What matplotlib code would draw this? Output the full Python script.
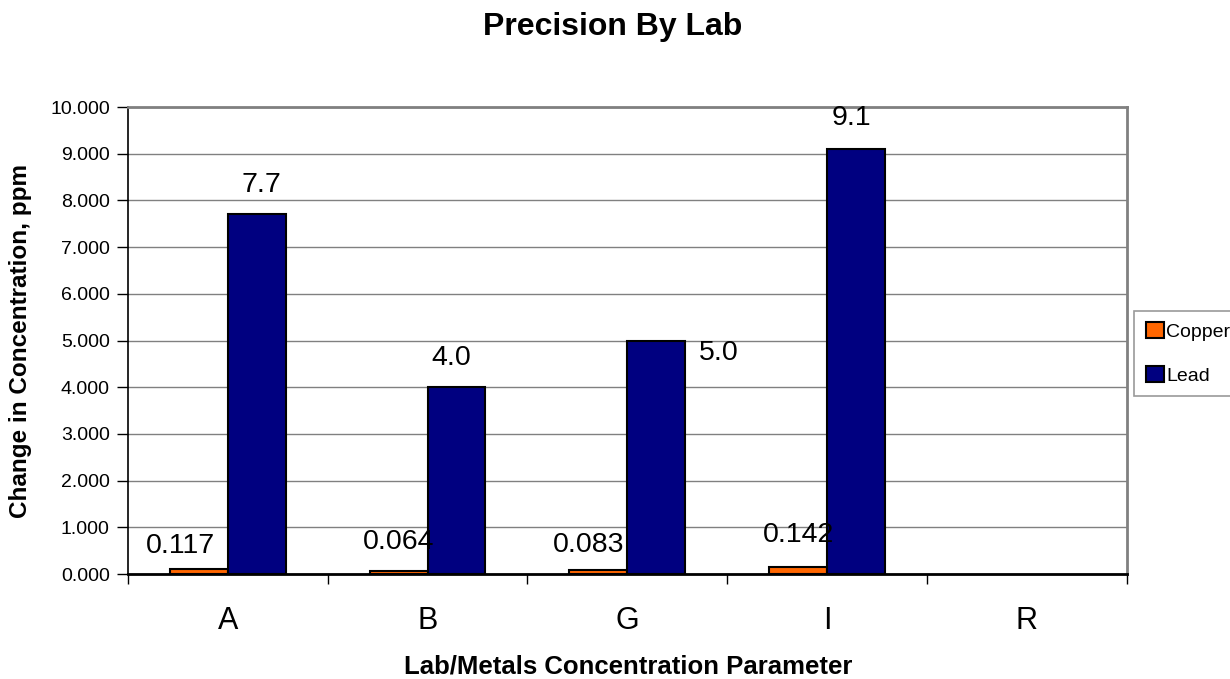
import matplotlib
matplotlib.use("Agg")
import matplotlib.pyplot as plt
import numpy as np
from matplotlib.ticker import FormatStrFormatter, MultipleLocator, FixedLocator

plt.rcParams["font.family"] = ["Liberation Sans", "DejaVu Sans"]

labs = ["A", "B", "G", "I", "R"]
copper = [0.117, 0.064, 0.083, 0.142, np.nan]
lead = [7.7, 4.0, 5.0, 9.1, np.nan]

# label offsets in points (dx, dy) -- hand placed like the original
copper_off = [(-13, 16), (0, 21), (-7, 18), (0, 23)]
lead_off = [(3, 21), (-4, 21), (45, -9), (-3, 22)]

fig = plt.figure(figsize=(12.3, 6.79), dpi=100)
ax = fig.add_axes([0.104, 0.1546, 0.812, 0.6878])

x = np.arange(len(labs))
w = 0.29
ax.bar(x - w / 2, copper, w, color="#FF6600", edgecolor="black", linewidth=1.5,
       label="Copper", zorder=3)
ax.bar(x + w / 2, lead, w, color="#000080", edgecolor="black", linewidth=1.5,
       label="Lead", zorder=3)

for i, v in enumerate(copper[:4]):
    ax.annotate(f"{v:.3f}", (x[i] - w / 2, v), xytext=copper_off[i],
                textcoords="offset points", ha="center", va="center",
                fontsize=20.5, zorder=4)
for i, v in enumerate(lead[:4]):
    ax.annotate(f"{v:.1f}", (x[i] + w / 2, v), xytext=lead_off[i],
                textcoords="offset points", ha="center", va="center",
                fontsize=20.5, zorder=4)

ax.set_xlim(-0.5, len(labs) - 0.5)
ax.set_ylim(0, 10)
ax.yaxis.set_major_locator(MultipleLocator(1))
ax.yaxis.set_major_formatter(FormatStrFormatter("%.3f"))
ax.yaxis.grid(True, color="#808080", linewidth=1, zorder=0)

ax.set_xticks(x)
ax.set_xticklabels(labs, fontsize=22)
ax.xaxis.set_minor_locator(FixedLocator(np.arange(-0.5, len(labs), 1)))
ax.tick_params(axis="x", which="major", length=0, pad=23)
ax.tick_params(axis="x", which="minor", length=7, width=1, color="black")
ax.tick_params(axis="y", labelsize=14, length=8, width=1, pad=5)

for s in ["top", "right"]:
    ax.spines[s].set_color("#808080")
    ax.spines[s].set_linewidth(2)
ax.spines["left"].set_linewidth(1.2)
ax.spines["bottom"].set_linewidth(2)

fig.text(0.511, 0.018, "Lab/Metals Concentration Parameter", fontsize=18.5,
         fontweight="bold", ha="center", va="center")
fig.text(0.0163, 0.4978, "Change in Concentration, ppm", fontsize=17.5,
         fontweight="bold", ha="center", va="center", rotation=90)
fig.suptitle("Precision By Lab", fontsize=23, fontweight="bold", x=0.498, y=0.982)

leg = ax.legend(loc="center left", bbox_to_anchor=(0.922, 0.4794),
                bbox_transform=fig.transFigure, fontsize=14, frameon=True,
                fancybox=False, edgecolor="#808080", handlelength=0.95,
                handleheight=0.85, handletextpad=0.1, labelspacing=1.3,
                borderpad=0.6, borderaxespad=0)
leg.get_frame().set_linewidth(1.2)

fig.savefig("out.png", dpi=100)
